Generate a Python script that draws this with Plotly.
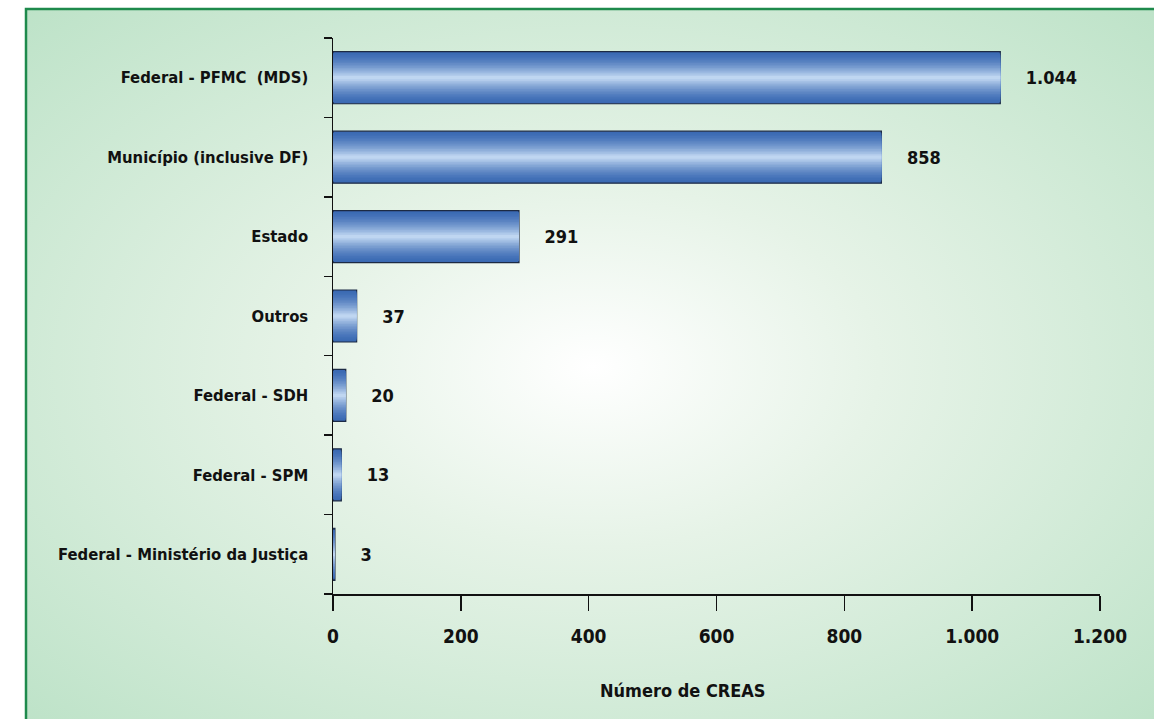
import base64
import plotly.graph_objects as go

# ---------------- data ----------------
categories = [
    "Federal - Ministério da Justiça",
    "Federal - SPM",
    "Federal - SDH",
    "Outros",
    "Estado",
    "Município (inclusive DF)",
    "Federal - PFMC  (MDS)",
]
values = [3, 13, 20, 37, 291, 858, 1044]
x_ticks = [0, 200, 400, 600, 800, 1000, 1200]
x_title = "Número de CREAS"

FONT = "DejaVu Sans Condensed, Liberation Sans Narrow, Arial Narrow, sans-serif"

# ---------------- layout geometry ----------------
W, H = 1154, 719
ML, MR, MT, MB = 333, 54, 38, 125
PW, PH = W - ML - MR, H - MT - MB


def px_to_paper_x(px):
    return (px - ML) / PW


def py_to_paper_y(py):
    return (H - MB - py) / PH


fig = go.Figure()

# gradient bars built from overlaid layers of decreasing width
BAR_W = 0.655
N = 16
dark = (0x3A, 0x69, 0xB3)
light = (0xC6, 0xDC, 0xF4)


def mix(a, b, t):
    return "rgb(%d,%d,%d)" % tuple(round(a[i] + (b[i] - a[i]) * t) for i in range(3))


for i in range(N):
    frac = 1 - i / N
    d = 1 - (i + 0.5) / N  # distance from center of the visible band
    t = (1 - d) ** 1.6  # 0 at edge (dark), 1 at center (light)
    kwargs = {}
    if i == 0:
        kwargs = dict(
            text=values,
            texttemplate="\u00a0\u00a0\u00a0\u00a0%{x:,d}",
            textposition="outside",
            textfont=dict(family=FONT, size=18, color="#111111", weight="bold"),
            cliponaxis=False,
        )
    fig.add_trace(
        go.Bar(
            x=values,
            y=categories,
            orientation="h",
            width=BAR_W * frac,
            marker=dict(
                color=mix(dark, light, t),
                line=dict(color="#1c2a44", width=1.2) if i == 0 else dict(width=0),
            ),
            hoverinfo="skip",
            showlegend=False,
            **kwargs,
        )
    )

# radial gradient background as SVG image
svg = (
    '<svg xmlns="http://www.w3.org/2000/svg" width="1128" height="710" viewBox="0 0 1128 710" preserveAspectRatio="none">'
    '<defs><radialGradient id="g" cx="0.5" cy="0.5" r="0.72" gradientUnits="objectBoundingBox">'
    '<stop offset="0" stop-color="#ffffff"/>'
    '<stop offset="0.35" stop-color="#e6f3e7"/>'
    '<stop offset="1" stop-color="#bce2c7"/>'
    '</radialGradient></defs>'
    '<rect x="0" y="0" width="1128" height="710" fill="url(#g)"/></svg>'
)
src = "data:image/svg+xml;base64," + base64.b64encode(svg.encode()).decode()

x0 = px_to_paper_x(26)
y1 = py_to_paper_y(9)
fig.add_layout_image(
    dict(
        source=src,
        xref="paper",
        yref="paper",
        x=x0,
        y=y1,
        sizex=px_to_paper_x(1160) - x0,
        sizey=y1 - py_to_paper_y(725),
        xanchor="left",
        yanchor="top",
        sizing="stretch",
        layer="below",
    )
)

fig.add_shape(
    type="rect",
    xref="paper",
    yref="paper",
    x0=px_to_paper_x(26),
    x1=px_to_paper_x(1170),
    y0=py_to_paper_y(740),
    y1=py_to_paper_y(9),
    line=dict(color="#1e8a4c", width=2.5),
    fillcolor="rgba(0,0,0,0)",
    layer="above",
)

fig.add_annotation(
    text=x_title,
    xref="paper",
    yref="paper",
    x=px_to_paper_x(683),
    y=py_to_paper_y(690),
    xanchor="center",
    yanchor="middle",
    showarrow=False,
    font=dict(family=FONT, size=18, color="#111111", weight="bold"),
)

fig.update_layout(
    width=W,
    height=H,
    margin=dict(l=ML, r=MR, t=MT, b=MB, pad=0),
    paper_bgcolor="white",
    plot_bgcolor="rgba(0,0,0,0)",
    barmode="overlay",
    separators=",.",
    font=dict(family=FONT, color="#111111"),
    xaxis=dict(
        range=[0, 1200],
        tickvals=x_ticks,
        tickformat=",d",
        showgrid=False,
        zeroline=False,
        showline=True,
        linecolor="#111111",
        linewidth=1.5,
        ticks="outside",
        ticklen=15,
        tickwidth=1.5,
        tickcolor="#111111",
        ticklabelstandoff=10,
        tickfont=dict(family=FONT, size=19, color="#111111", weight="bold"),
        fixedrange=True,
    ),
    yaxis=dict(
        type="category",
        categoryorder="array",
        categoryarray=categories,
        range=[-0.5, len(categories) - 0.5],
        showgrid=False,
        zeroline=False,
        showline=True,
        linecolor="#111111",
        linewidth=1.5,
        ticks="outside",
        tickson="boundaries",
        ticklen=8,
        tickwidth=1.5,
        tickcolor="#111111",
        ticklabelstandoff=20,
        tickfont=dict(family=FONT, size=16.5, color="#111111", weight="bold"),
        fixedrange=True,
    ),
)

fig.write_html(
    "out.html",
    config={"displayModeBar": False, "staticPlot": True},
    post_script="document.body.style.margin='0';document.body.style.overflow='hidden';",
)
